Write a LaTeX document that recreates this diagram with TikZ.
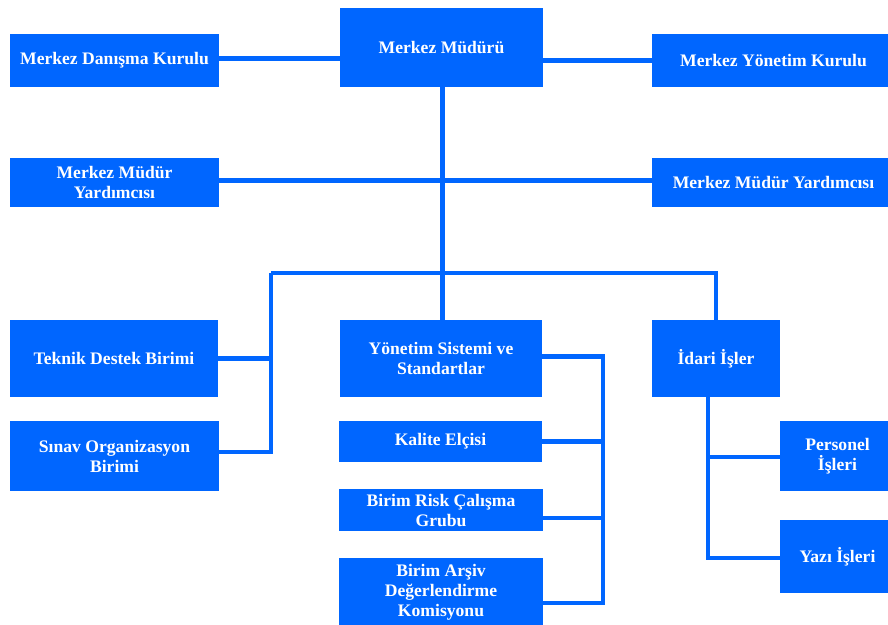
\documentclass[tikz,border=0pt]{standalone}
\usepackage{fontspec}
\setmainfont{Liberation Serif}
\definecolor{orgblue}{HTML}{0066FF}
\begin{document}
\begin{tikzpicture}[x=1pt,y=-1pt,
  box/.style={draw=none,fill=orgblue,text=white,inner sep=0pt,align=center,
    font=\bfseries\fontsize{17.6}{20}\selectfont},
  conn/.style={draw=orgblue,line width=4.5pt}]
\useasboundingbox (0,0) rectangle (888,624);
\clip (0,0) rectangle (888,624);
% nodes
\node[box,minimum width=209pt,minimum height=53pt] (dk) at (114.5,60.5) {Merkez Danışma Kurulu};
\node[box,minimum width=203pt,minimum height=79pt] (mm) at (441.5,47.5) {Merkez Müdürü};
\node[box,minimum width=243pt,minimum height=53pt] (yk) at (773.5,60.5) {Merkez Yönetim Kurulu};
\node[box,minimum width=209pt,minimum height=49pt] (my1) at (114.5,182.5) {Merkez Müdür\\Yardımcısı};
\node[box,minimum width=243pt,minimum height=49pt] (my2) at (773.5,182.5) {Merkez Müdür Yardımcısı};
\node[box,minimum width=208pt,minimum height=77pt] (td) at (114,358.5) {Teknik Destek Birimi};
\node[box,minimum width=209pt,minimum height=70pt] (so) at (114.5,456) {Sınav Organizasyon\\Birimi};
\node[box,minimum width=202pt,minimum height=77pt] (ys) at (441,358.5) {Yönetim Sistemi ve\\Standartlar};
\node[box,minimum width=128pt,minimum height=77pt] (ii) at (716,358.5) {İdari İşler};
\node[box,minimum width=203pt,minimum height=41pt] (ke) at (440.5,441.5) {Kalite Elçisi};
\node[box,minimum width=204pt,minimum height=42pt] (rc) at (441,510) {Birim Risk Çalışma\\Grubu};
\node[box,minimum width=204pt,minimum height=68pt] (ad) at (441,592) {Birim Arşiv\\Değerlendirme\\Komisyonu};
\node[box,minimum width=115pt,minimum height=70pt] (pi) at (837.5,456) {Personel\\İşleri};
\node[box,minimum width=115pt,minimum height=73pt] (yi) at (837.5,556.5) {Yazı İşleri};
% helper coordinates
\coordinate (tx) at (442.5,0);
\coordinate (bl) at (271,273);
\coordinate (br) at (716,273);
\coordinate (vx) at (603,0);
\coordinate (ix) at (708,0);
% connectors
\draw[conn] ([yshift=2pt]dk.east) -- ([yshift=2pt]dk.east -| mm.west);
\draw[conn] (yk.west -| mm.east) -- (yk.west);
\draw[conn] (mm.south -| tx) -- (ys.north -| tx);
\draw[conn] ([yshift=2pt]my1.east) -- ([yshift=2pt]my1.east -| my2.west);
\draw[conn] (bl) -- (br) -- (br |- ii.north);
\draw[conn] (td.east) -- (td.east -| bl);
\draw[conn] (bl) -- ([yshift=4pt]so.east -| bl) -- ([yshift=4pt]so.east);
\draw[conn] ([yshift=2pt]ys.east) -- ([yshift=2pt]ys.east -| vx) -- ([yshift=-13pt]ad.east -| vx);
\draw[conn] (ke.east) -- (ke.east -| vx);
\draw[conn] ([yshift=-8pt]rc.east) -- ([yshift=-8pt]rc.east -| vx);
\draw[conn] ([yshift=-11pt]ad.east) -- ([yshift=-11pt]ad.east -| vx);
\draw[conn] (ii.south -| ix) -- ([yshift=-1.5pt]yi.west -| ix) -- ([yshift=-1.5pt]yi.west);
\draw[conn] ([yshift=-1pt]pi.west -| ix) -- ([yshift=-1pt]pi.west);
\end{tikzpicture}
\end{document}
